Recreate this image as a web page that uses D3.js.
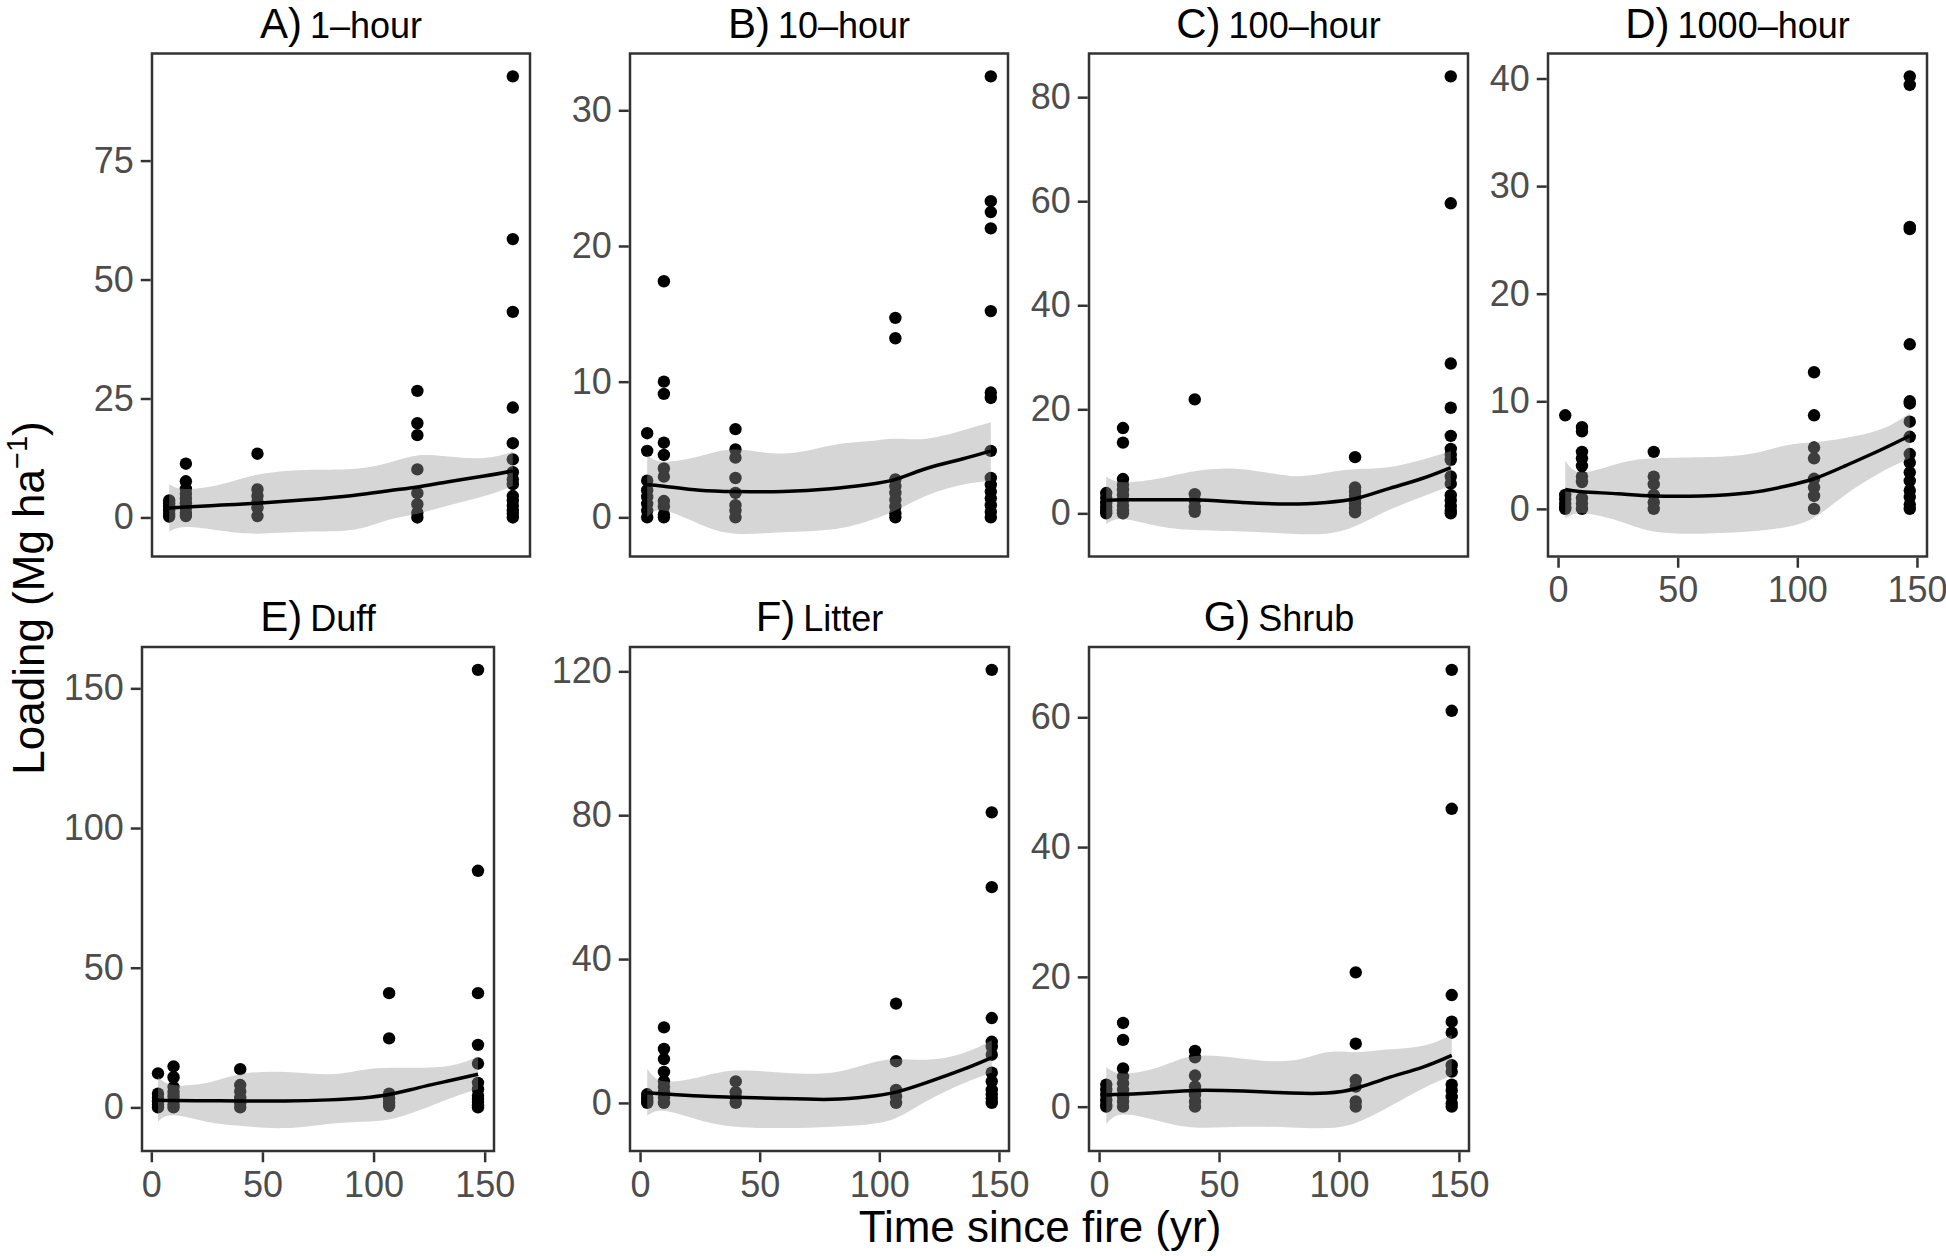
<!DOCTYPE html>
<html>
<head>
<meta charset="utf-8">
<script src="https://cdn.jsdelivr.net/npm/d3@7"></script>
<style>
body { margin: 0; background: #fff; }
text { font-family: "Liberation Sans", Arial, Helvetica, sans-serif; }
</style>
</head>
<body>
<svg id="chart" width="1946" height="1256"></svg>
<script>
// sampling years (time since fire)
var years = [3, 10, 40, 107, 147];
var xTicks = [0, 50, 100, 150];

// fuel loading (Mg/ha), one list of plots per year
var oneHour = [
    [0.2, 0.8, 1.5, 2.2, 3.0, 3.6],
    [11.3, 7.6, 6.0, 5.0, 4.0, 3.0, 2.0, 1.0, 0.3],
    [13.4, 5.9, 4.5, 3.3, 2.0, 0.3],
    [26.6, 19.8, 17.3, 10.1, 5.1, 2.8, 1.0, 0],
    [92.7, 58.5, 43.2, 23.1, 15.6, 12.2, 9.5, 8.0, 7.0, 4.5, 3.5, 2.5, 1.5, 0.8, 0]
];
var tenHour = [
    [6.2, 4.9, 2.7, 2.0, 1.5, 1.0, 0.5, 0],
    [17.4, 10.0, 9.1, 5.5, 4.6, 3.6, 3.0, 1.2, 0.8, 0.2, 0],
    [6.5, 5.0, 4.4, 2.9, 1.8, 0.9, 0.5, 0],
    [14.7, 13.2, 2.8, 2.3, 1.8, 1.3, 0.8, 0.3, 0],
    [32.5, 23.3, 22.5, 21.3, 15.2, 9.2, 8.8, 4.9, 2.9, 2.4, 1.9, 1.4, 0.9, 0.4, 0]
];
var hundredHour = [
    [3.9, 3.0, 2.0, 1.2, 0.5, 0],
    [16.4, 13.6, 6.6, 5.5, 4.5, 3.5, 2.5, 1.5, 0.6, 0],
    [21.9, 3.7, 2.5, 1.2, 0.3],
    [10.8, 5.0, 4.2, 3.4, 2.6, 1.8, 1.0, 0.2],
    [84.0, 59.6, 28.8, 20.3, 14.9, 12.4, 11.3, 10.3, 7.1, 5.7, 3.5, 2.5, 1.4, 0.5, 0]
];
var thousandHour = [
    [8.7, 1.3, 0.9, 0.5, 0.2, 0],
    [7.6, 7.2, 5.3, 4.7, 4.0, 3.0, 2.5, 1.0, 0.5, 0],
    [5.3, 3.0, 2.3, 1.3, 0.6, 0],
    [12.7, 8.7, 5.7, 4.7, 2.8, 2.0, 1.2, 0],
    [40.2, 39.4, 26.2, 26.0, 15.3, 10.0, 9.8, 8.1, 6.7, 5.1, 4.3, 3.4, 2.6, 1.7, 1.1, 0.4, 0]
];
var duff = [
    [12.2, 4.9, 3.5, 2.2, 1.0, 0],
    [14.7, 10.8, 7.3, 5.5, 4.0, 2.5, 1.0, 0],
    [13.7, 8.0, 5.7, 3.4, 1.5, 0],
    [40.9, 24.7, 4.9, 3.2, 1.8, 0.5],
    [156.6, 84.7, 40.9, 22.4, 15.7, 8.8, 6.5, 4.2, 3.0, 1.9, 0.8, 0]
];
var litter = [
    [2.4, 1.5, 0.8, 0],
    [21.0, 15.0, 12.2, 8.6, 6.0, 4.5, 3.0, 1.5, 0],
    [6.0, 3.0, 1.5, 0],
    [27.6, 11.6, 3.6, 1.8, 0],
    [120.4, 80.8, 60.0, 23.6, 17.0, 15.6, 13.4, 8.4, 6.0, 3.6, 2.4, 1.2, 0]
];
var shrub = [
    [3.4, 2.6, 1.8, 1.0, 0.3, 0],
    [12.9, 10.3, 5.9, 4.6, 3.6, 2.6, 1.6, 0.8, 0],
    [8.6, 7.6, 4.8, 3.1, 2.3, 1.8, 0.8, 0],
    [20.7, 9.7, 4.1, 3.1, 0.8, 0],
    [67.3, 61.0, 45.9, 17.2, 13.1, 11.4, 6.4, 5.4, 3.4, 2.5, 1.5, 0.5, 0]
];

// smoother: fitted value and confidence band, read at these years
var smoothYears = [3, 10, 25, 40, 60, 80, 95, 107, 120, 135, 147];
var fit1h = [2.0, 2.2, 2.6, 3.0, 3.7, 4.6, 5.6, 6.4, 7.5, 8.7, 9.8];
var hi1h = [7.0, 6.0, 7.0, 9.0, 10.0, 10.2, 11.5, 13.0, 12.8, 12.5, 13.8];
var lo1h = [-3.0, -2.0, -2.8, -3.4, -3.0, -2.6, -0.5, 0.8, 2.5, 4.5, 6.6];
var fit10h = [2.4, 2.3, 2.0, 1.9, 1.9, 2.1, 2.4, 2.8, 3.6, 4.3, 4.9];
var hi10h = [4.6, 4.1, 4.5, 5.0, 4.7, 5.3, 5.6, 5.8, 5.8, 6.4, 7.0];
var lo10h = [0.0, 0.5, -0.5, -1.2, -1.1, -0.9, -0.3, 0.5, 1.6, 2.4, 2.7];
var fit100h = [2.5, 2.6, 2.6, 2.6, 2.1, 1.8, 2.1, 2.8, 4.6, 6.7, 8.8];
var hi100h = [7.1, 6.0, 6.7, 8.1, 8.5, 7.2, 7.8, 8.5, 8.8, 10.3, 12.0];
var lo100h = [-2.1, -1.1, -2.5, -3.2, -3.5, -3.9, -3.9, -2.5, 0.4, 3.2, 5.3];
var fit1000h = [1.8, 1.6, 1.4, 1.2, 1.2, 1.5, 2.1, 2.8, 4.0, 5.5, 6.8];
var hi1000h = [4.5, 3.4, 4.2, 4.7, 4.8, 5.1, 5.9, 6.2, 6.6, 7.4, 8.9];
var lo1000h = [-0.9, -0.4, -1.1, -2.1, -2.3, -2.1, -1.7, -0.8, 1.3, 3.4, 4.7];
var fitDuff = [2.6, 2.5, 2.4, 2.3, 2.3, 2.7, 3.4, 4.6, 7.0, 9.7, 11.9];
var hiDuff = [11.1, 8.0, 8.8, 11.9, 12.7, 11.9, 13.4, 14.2, 14.2, 15.0, 18.1];
var loDuff = [-5.1, -2.8, -5.1, -6.6, -7.4, -5.9, -5.1, -4.3, -1.2, 3.4, 6.5];
var fitLitter = [2.8, 2.5, 1.9, 1.6, 1.2, 1.0, 1.7, 3.0, 5.7, 9.3, 12.6];
var hiLitter = [9.6, 6.0, 7.2, 9.0, 8.4, 8.4, 10.8, 12.2, 12.0, 13.8, 17.4];
var loLitter = [-3.6, -2.2, -4.8, -6.6, -7.0, -6.6, -6.0, -4.2, 0.6, 5.4, 8.4];
var fitShrub = [1.8, 1.9, 2.2, 2.5, 2.4, 2.1, 2.1, 2.8, 4.4, 6.1, 7.9];
var hiShrub = [6.1, 5.1, 6.1, 7.8, 7.4, 7.1, 8.4, 8.4, 8.8, 9.4, 11.1];
var loShrub = [-2.7, -1.2, -2.2, -3.2, -3.1, -3.2, -3.3, -2.5, -0.2, 2.8, 4.8];

var panelLetters = ["A)", "B)", "C)", "D)", "E)", "F)", "G)"];
var panelNames = ["1–hour", "10–hour", "100–hour", "1000–hour", "Duff", "Litter", "Shrub"];
var yTicks = [
    [0, 25, 50, 75],
    [0, 10, 20, 30],
    [0, 20, 40, 60, 80],
    [0, 10, 20, 30, 40],
    [0, 50, 100, 150],
    [0, 40, 80, 120],
    [0, 20, 40, 60]
];

var svg = d3.select("#chart");

// panel boxes: left, top, right, bottom
var panels = [
    {pts: oneHour, fit: fit1h, lo: lo1h, hi: hi1h, box: [152, 53.5, 530, 556.5], xAxis: false},
    {pts: tenHour, fit: fit10h, lo: lo10h, hi: hi10h, box: [630, 53.5, 1008, 556.5], xAxis: false},
    {pts: hundredHour, fit: fit100h, lo: lo100h, hi: hi100h, box: [1089, 53.5, 1468, 556.5], xAxis: false},
    {pts: thousandHour, fit: fit1000h, lo: lo1000h, hi: hi1000h, box: [1548, 53.5, 1927, 556.5], xAxis: true},
    {pts: duff, fit: fitDuff, lo: loDuff, hi: hiDuff, box: [142, 647, 494, 1151], xAxis: true},
    {pts: litter, fit: fitLitter, lo: loLitter, hi: hiLitter, box: [630, 647, 1009, 1151], xAxis: true},
    {pts: shrub, fit: fitShrub, lo: loShrub, hi: hiShrub, box: [1089, 647, 1469, 1151], xAxis: true}
];

// ggplot style 5% expansion
function expand(ext) {
    var pad = (ext[1] - ext[0]) * 0.05;
    return [ext[0] - pad, ext[1] + pad];
}

var xDomain = expand(d3.extent(years));
var tickFont = "36px";

panels.forEach(function (p, k) {
    var b = p.box;
    var x = d3.scaleLinear().domain(xDomain).range([b[0], b[2]]);
    var all = d3.merge(p.pts).concat(p.lo, p.hi);
    var y = d3.scaleLinear().domain(expand(d3.extent(all))).range([b[3], b[1]]);

    var g = svg.append("g");

    var pts = [];
    p.pts.forEach(function (vals, i) {
        vals.forEach(function (v) { pts.push({x: years[i], y: v}); });
    });

    g.selectAll("circle")
        .data(pts)
        .enter()
        .append("circle")
        .attr("cx", function (d) { return x(d.x); })
        .attr("cy", function (d) { return y(d.y); })
        .attr("r", 6.2)
        .style("fill", "#000");

    var band = smoothYears.map(function (yr, i) {
        return {x: yr, fit: p.fit[i], lo: p.lo[i], hi: p.hi[i]};
    });

    g.append("path")
        .datum(band)
        .attr("d", d3.area()
            .x(function (d) { return x(d.x); })
            .y0(function (d) { return y(d.lo); })
            .y1(function (d) { return y(d.hi); })
            .curve(d3.curveNatural))
        .style("fill", "#999999")
        .style("fill-opacity", 0.4);

    g.append("path")
        .datum(band)
        .attr("d", d3.line()
            .x(function (d) { return x(d.x); })
            .y(function (d) { return y(d.fit); })
            .curve(d3.curveNatural))
        .style("fill", "none")
        .style("stroke", "#000")
        .style("stroke-width", 3.5);

    g.append("rect")
        .attr("x", b[0])
        .attr("y", b[1])
        .attr("width", b[2] - b[0])
        .attr("height", b[3] - b[1])
        .style("fill", "none")
        .style("stroke", "#333")
        .style("stroke-width", 2.5);

    var ya = g.append("g")
        .attr("transform", "translate(" + (b[0] - 1.25) + ",0)")
        .call(d3.axisLeft(y).tickValues(yTicks[k]).tickSize(10).tickPadding(7));
    ya.select(".domain").remove();
    ya.selectAll("line").style("stroke", "#333").style("stroke-width", 2.5);
    ya.selectAll("text").style("fill", "#4d4d4d").style("font-size", tickFont)
        .style("font-family", "'Liberation Sans', Arial, sans-serif");

    if (p.xAxis) {
        var xa = g.append("g")
            .attr("transform", "translate(0," + (b[3] + 1.25) + ")")
            .call(d3.axisBottom(x).tickValues(xTicks).tickSize(10).tickPadding(9));
        xa.select(".domain").remove();
        xa.selectAll("line").style("stroke", "#333").style("stroke-width", 2.5);
        xa.selectAll("text").style("fill", "#4d4d4d").style("font-size", tickFont)
            .style("font-family", "'Liberation Sans', Arial, sans-serif");
    }

    var title = g.append("text")
        .attr("x", (b[0] + b[2]) / 2)
        .attr("y", b[1] - 16)
        .attr("text-anchor", "middle")
        .style("fill", "#000");
    title.append("tspan").style("font-size", "42px").text(panelLetters[k]);
    title.append("tspan").attr("dx", 8).style("font-size", "36px").text(panelNames[k]);
});

// shared axis titles
svg.append("text")
    .attr("transform", "translate(44,598) rotate(-90)")
    .attr("text-anchor", "middle")
    .style("font-size", "44px")
    .style("fill", "#000")
    .call(function (t) {
        t.append("tspan").text("Loading (Mg ha");
        t.append("tspan").attr("dy", -17).style("font-size", "29px").text("−1");
        t.append("tspan").attr("dy", 17).text(")");
    });

svg.append("text")
    .attr("x", 1040)
    .attr("y", 1242)
    .attr("text-anchor", "middle")
    .style("font-size", "44px")
    .style("fill", "#000")
    .text("Time since fire (yr)");
</script>
</body>
</html>
